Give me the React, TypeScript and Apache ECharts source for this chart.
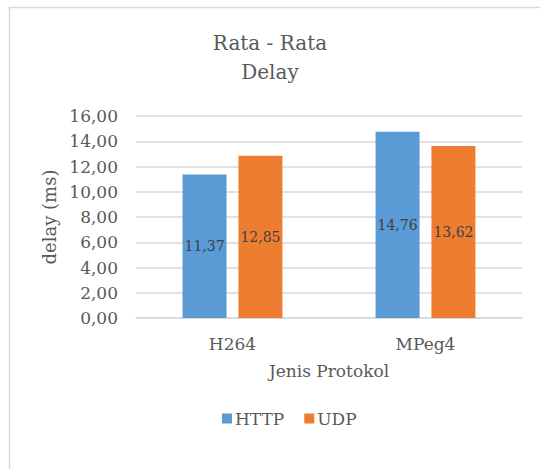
import React, { useEffect, useRef } from "react";
import * as echarts from "echarts";

const categories = ["H264", "MPeg4"];
const httpValues = [11.37, 14.76];
const udpValues = [12.85, 13.62];
const seriesNames = ["HTTP", "UDP"];

const FONT = "DejaVu Serif";
const fmt = (v: number) => v.toFixed(2).replace(".", ",");

export default function App() {
  const ref = useRef<HTMLDivElement>(null);
  useEffect(() => {
    if (!ref.current) return;
    const chart = echarts.init(ref.current, undefined, { renderer: "svg" });
    chart.setOption({
      animation: false,
      backgroundColor: "#ffffff",
      textStyle: { fontFamily: FONT },
      graphic: [
        {
          type: "rect",
          left: 7,
          top: 5,
          shape: { x: 0, y: 0, width: 600, height: 600 },
          style: { fill: "none", stroke: "#d9d9d9", lineWidth: 1.5 },
          silent: true,
          z: -10,
        },
      ],
      title: {
        text: "Rata - Rata\nDelay",
        left: "center",
        top: 23,
        textStyle: {
          fontFamily: FONT,
          fontSize: 20,
          fontWeight: "normal",
          color: "#595959",
          lineHeight: 29,
        },
      },
      legend: {
        data: seriesNames,
        left: 217,
        top: 405,
        itemWidth: 10,
        itemHeight: 10,
        itemGap: 20,
        icon: "rect",
        textStyle: { fontFamily: FONT, fontSize: 17, color: "#595959", padding: [0, 0, 0, -2] },
      },
      grid: { left: 136, right: 18, top: 116, bottom: 151 },
      xAxis: {
        type: "category",
        data: categories,
        name: "Jenis Protokol",
        nameLocation: "middle",
        nameGap: 44,
        nameTextStyle: { fontFamily: FONT, fontSize: 17, color: "#595959" },
        axisLine: { lineStyle: { color: "#d9d9d9", width: 1.5 } },
        axisTick: { show: false },
        axisLabel: { fontFamily: FONT, fontSize: 17, color: "#595959", margin: 17 },
      },
      yAxis: {
        type: "value",
        min: 0,
        max: 16,
        interval: 2,
        name: "delay (ms)",
        nameLocation: "middle",
        nameGap: 66,
        nameTextStyle: { fontFamily: FONT, fontSize: 18, color: "#595959" },
        axisLine: { show: false },
        axisTick: { show: false },
        axisLabel: {
          fontFamily: FONT,
          fontSize: 17,
          color: "#595959",
          margin: 18,
          formatter: (v: number) => fmt(v),
        },
        splitLine: { lineStyle: { color: "#d9d9d9", width: 1.5 } },
      },
      series: [
        {
          name: seriesNames[0],
          type: "bar",
          data: httpValues,
          barWidth: 44,
          barGap: "27%",
          itemStyle: { color: "#5B9BD5" },
          label: {
            show: true,
            position: "inside",
            fontFamily: FONT,
            fontSize: 14,
            color: "#404040",
            formatter: (p: any) => fmt(p.value),
          },
        },
        {
          name: seriesNames[1],
          type: "bar",
          data: udpValues,
          barWidth: 44,
          barGap: "27%",
          itemStyle: { color: "#ED7D31" },
          label: {
            show: true,
            position: "inside",
            fontFamily: FONT,
            fontSize: 14,
            color: "#404040",
            formatter: (p: any) => fmt(p.value),
          },
        },
      ],
    });
    return () => chart.dispose();
  }, []);
  return (
    <div
      ref={ref}
      style={{ position: "fixed", left: 0, top: 0, width: 540, height: 469 }}
    />
  );
}
